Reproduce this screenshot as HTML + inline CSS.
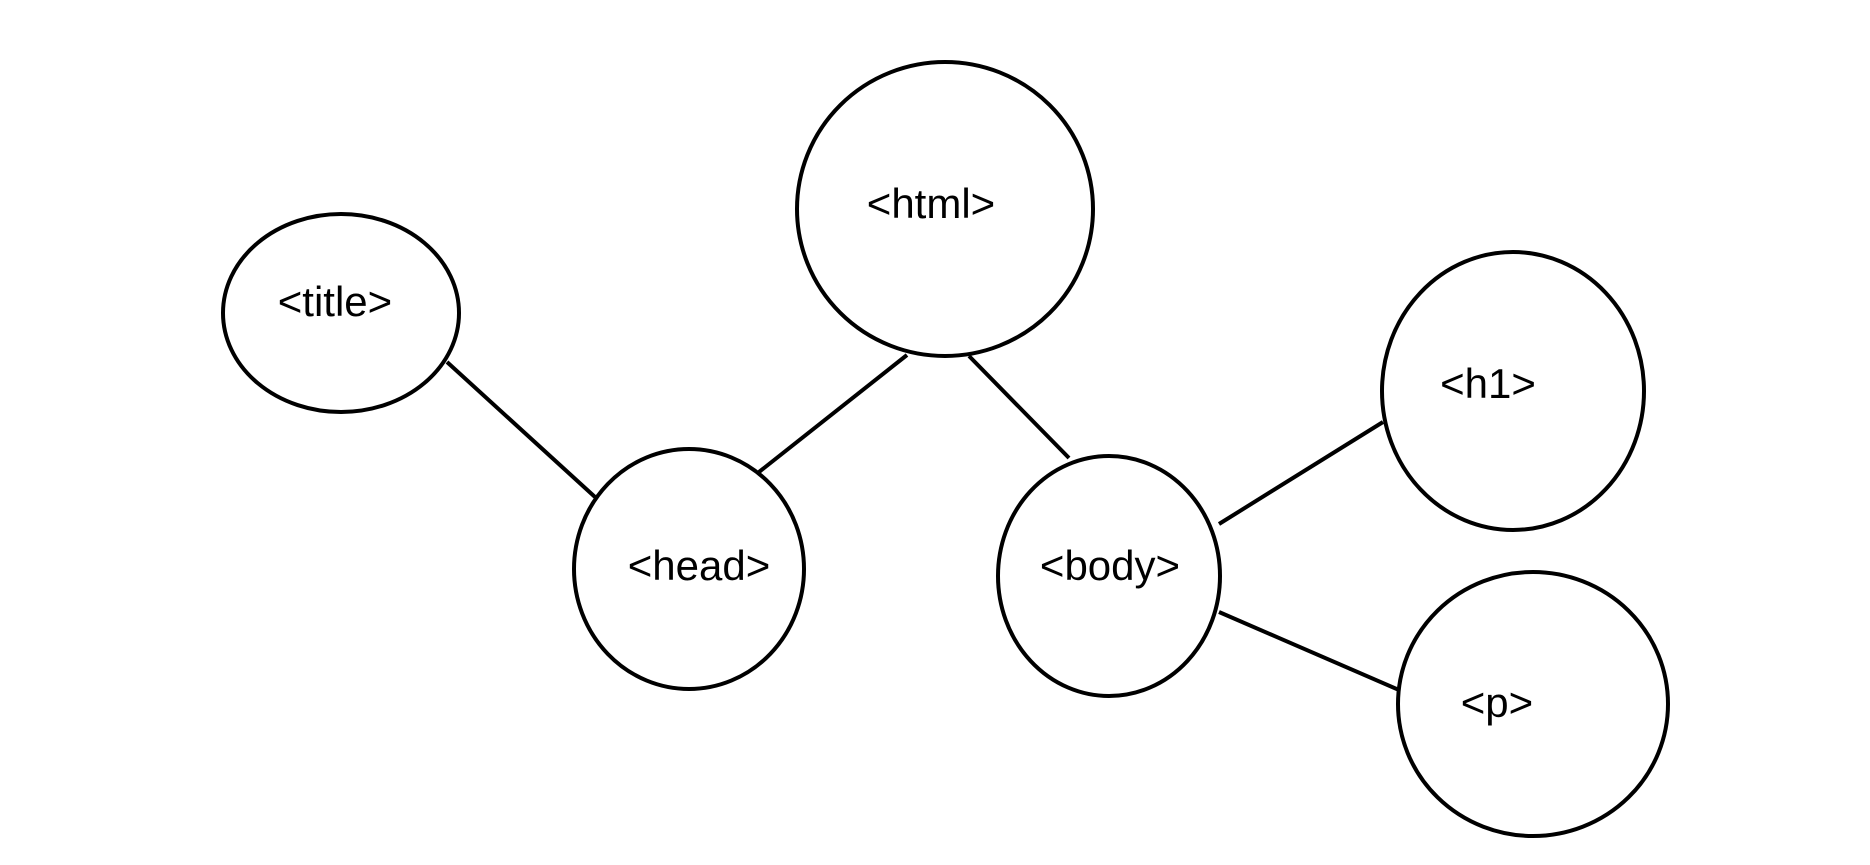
<!DOCTYPE html>
<html><head><meta charset="utf-8"><style>html,body{margin:0;padding:0;background:#fff}</style></head>
<body>
<svg width="1870" height="860" viewBox="0 0 1870 860" xmlns="http://www.w3.org/2000/svg">
<g transform="translate(-5,0)">
<g fill="none" stroke="#000" stroke-width="4">
<ellipse cx="950" cy="209" rx="148" ry="147"/>
<ellipse cx="346" cy="313" rx="118" ry="99"/>
<ellipse cx="694" cy="569" rx="115" ry="120"/>
<ellipse cx="1114" cy="576" rx="111" ry="120"/>
<ellipse cx="1518" cy="391" rx="131" ry="139"/>
<ellipse cx="1538" cy="704" rx="135" ry="132"/>
<line x1="452" y1="362" x2="600" y2="497"/>
<line x1="912" y1="355" x2="764" y2="472"/>
<line x1="974" y1="356" x2="1074" y2="458"/>
<line x1="1224" y1="524" x2="1388" y2="422"/>
<line x1="1224" y1="612" x2="1404" y2="690"/>
</g>
<g font-family="Liberation Sans, sans-serif" font-size="42" text-anchor="middle" fill="#000">
<text x="936" y="218">&lt;html&gt;</text>
<text x="340" y="316">&lt;title&gt;</text>
<text x="704" y="580">&lt;head&gt;</text>
<text x="1115" y="580">&lt;body&gt;</text>
<text x="1493" y="398">&lt;h1&gt;</text>
<text x="1502" y="717">&lt;p&gt;</text>
</g>
</g>
</svg>
</body></html>
